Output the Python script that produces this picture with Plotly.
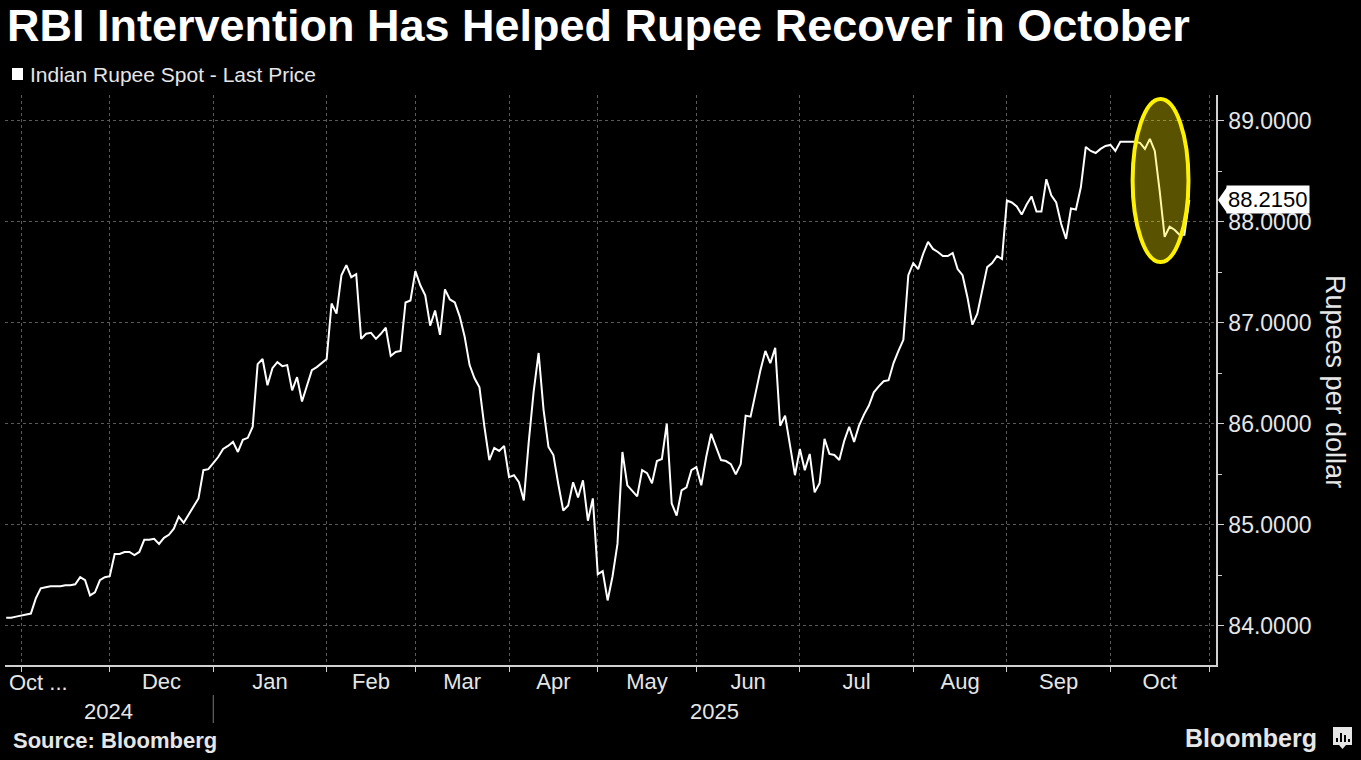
import pandas as pd
import plotly.graph_objects as go

# Indian FX market holidays in the window (no spot fixing on these days)
holidays = [
    "2024-11-01", "2024-11-15", "2024-11-20", "2024-12-25",
    "2025-02-19", "2025-02-26", "2025-03-14", "2025-03-31", "2025-04-01",
    "2025-04-10", "2025-04-14", "2025-04-18", "2025-05-01", "2025-05-12",
    "2025-08-15", "2025-08-27", "2025-09-05", "2025-10-02", "2025-10-21",
    "2025-10-22",
]

# USD/INR spot, one value per trading day, month by month
oct_2024 = [84.08, 84.08, 84.09]
nov_2024 = [84.10, 84.11, 84.12, 84.27, 84.37, 84.38, 84.39, 84.39, 84.39,
            84.40, 84.40, 84.41, 84.48, 84.45, 84.30, 84.33, 84.45, 84.48]
dec_2024 = [84.49, 84.71, 84.71, 84.73, 84.73, 84.70, 84.73, 84.85, 84.85,
            84.86, 84.81, 84.87, 84.90, 84.96, 85.08, 85.02, 85.10, 85.18,
            85.26, 85.54, 85.55]
jan_2025 = [85.61, 85.67, 85.75, 85.78, 85.82, 85.72, 85.84, 85.86, 85.97,
            86.59, 86.64, 86.38, 86.55, 86.61, 86.57, 86.58, 86.33, 86.46,
            86.22, 86.37, 86.53, 86.56, 86.60]
feb_2025 = [86.64, 87.19, 87.09, 87.47, 87.57, 87.45, 87.48, 86.84, 86.89,
            86.90, 86.84, 86.89, 86.95, 86.67, 86.71, 86.72, 87.20, 87.22]
mar_2025 = [87.51, 87.37, 87.27, 86.97, 87.12, 86.88, 87.33, 87.23, 87.20,
            87.06, 86.86, 86.58, 86.45, 86.36, 85.97, 85.64, 85.76, 85.73,
            85.78]
apr_2025 = [85.47, 85.49, 85.42, 85.24, 85.82, 86.32, 86.70, 86.14, 85.77,
            85.69, 85.40, 85.14, 85.19, 85.42, 85.27, 85.44, 85.04, 85.26]
may_2025 = [84.51, 84.54, 84.25, 84.49, 84.81, 85.72, 85.39, 85.34, 85.28,
            85.54, 85.51, 85.41, 85.63, 85.65, 86.00, 85.21, 85.09, 85.34,
            85.37, 85.54]
jun_2025 = [85.57, 85.39, 85.67, 85.90, 85.77, 85.64, 85.63, 85.60, 85.50,
            85.60, 86.08, 86.07, 86.30, 86.53, 86.72, 86.60, 86.75, 85.98,
            86.08, 85.80, 85.49]
jul_2025 = [85.75, 85.54, 85.70, 85.32, 85.41, 85.85, 85.70, 85.69, 85.64,
            85.83, 85.97, 85.82, 85.98, 86.09, 86.18, 86.31, 86.37, 86.42,
            86.43, 86.60, 86.72, 86.83, 87.47]
aug_2025 = [87.59, 87.53, 87.68, 87.80, 87.73, 87.70, 87.66, 87.66, 87.69,
            87.53, 87.47, 87.25, 86.98, 87.09, 87.32, 87.55, 87.59, 87.66,
            87.63]
sep_2025 = [88.21, 88.19, 88.15, 88.07, 88.17, 88.25, 88.10, 88.10, 88.42,
            88.26, 88.19, 87.98, 87.83, 88.13, 88.12, 88.34, 88.74, 88.70,
            88.68, 88.72, 88.75]
oct_2025 = [88.76, 88.70, 88.79, 88.79, 88.79, 88.79, 88.78, 88.72, 88.82,
            88.70, 88.30, 87.85, 87.95, 87.92, 87.87, 87.87, 88.215]

month_labels = ["Dec", "Jan", "Feb", "Mar", "Apr", "May", "Jun", "Jul",
                "Aug", "Sep", "Oct"]
year_labels = ["2024", "2025"]

values = (oct_2024 + nov_2024 + dec_2024 + jan_2025 + feb_2025 + mar_2025 +
          apr_2025 + may_2025 + jun_2025 + jul_2025 + aug_2025 + sep_2025 +
          oct_2025)

days = pd.bdate_range("2024-10-29", "2025-10-28", freq="C", holidays=holidays)
calendar = pd.bdate_range("2024-10-29", "2025-11-04", freq="C", holidays=holidays)

# first trading day of each month -> gridlines
start_idx = [i for i in range(1, len(calendar))
             if calendar[i].month != calendar[i - 1].month]
month_starts = [calendar[i] for i in start_idx]

# labels sit in the middle of each month (skip Nov 2024, like the original)
label_pos = []
for a, b in zip(start_idx[1:-1], start_idx[2:]):
    mid = (a + b) / 2
    label_pos.append(calendar[int(mid)] + pd.Timedelta(days=mid % 1))

W, H = 1361, 760
L, R, T, B = 5, 145, 95, 95


def px(x):
    return (x - L) / (W - L - R)


def py(y):
    return (H - B - y) / (H - T - B)


TXT = "#e6e6e6"
GRID = "#5a5a5a"
FONT = "Liberation Sans"

fig = go.Figure()
fig.add_trace(go.Scatter(
    x=days, y=values, mode="lines",
    line=dict(color="white", width=2),
    name="Indian Rupee Spot - Last Price",
    showlegend=False,
))

fig.update_layout(
    width=W, height=H,
    margin=dict(l=L, r=R, t=T, b=B),
    paper_bgcolor="black", plot_bgcolor="black",
    font=dict(family=FONT, color=TXT, size=22),
    title=dict(
        text="RBI Intervention Has Helped Rupee Recover in October",
        font=dict(family=FONT, size=45, color="white", weight="bold"),
        x=7 / W, xref="container", xanchor="left",
        y=1 - 25 / H, yanchor="middle",
    ),
    xaxis=dict(
        type="date",
        rangebreaks=[dict(bounds=["sat", "mon"]), dict(values=holidays)],
        range=[days[0] - pd.Timedelta(hours=6), "2025-11-04 10:00"],
        tickmode="array", tickvals=label_pos, ticktext=month_labels,
        ticks="", showgrid=False, zeroline=False,
        showline=True, linecolor="#d0d0d0", linewidth=1.5,
        tickfont=dict(size=22, color=TXT), ticklabelstandoff=-4,
        minor=dict(tickmode="array", tickvals=month_starts,
                   ticks="outside", ticklen=5, tickcolor="#d0d0d0",
                   showgrid=True, gridcolor=GRID, griddash="dot", gridwidth=1),
    ),
    yaxis=dict(
        side="right",
        range=[83.611, 89.254],
        tick0=84, dtick=1, tickformat=".4f",
        ticks="outside", ticklen=6, tickcolor="#d0d0d0",
        showline=True, linecolor="#d0d0d0", linewidth=1.5,
        showgrid=True, gridcolor=GRID, griddash="dot", gridwidth=1,
        zeroline=False,
        tickfont=dict(size=23, color=TXT),
        minor=dict(dtick=0.5, ticks="outside", ticklen=4,
                   tickcolor="#d0d0d0", showgrid=False),
    ),
)

# highlight of the October drop
fig.add_shape(type="circle", xref="x", yref="y",
              x0="2025-10-08 12:00", x1="2025-10-27 20:00",
              y0=87.60, y1=89.215,
              line=dict(color="#fff200", width=4),
              fillcolor="rgba(255,235,0,0.35)", layer="above")

# last price tag
last = values[-1]
fig.add_shape(type="path", xref="paper", xsizemode="pixel", xanchor=1,
              yref="y", ysizemode="pixel", yanchor=last,
              path="M 2,0 L 11,13 L 11,-13 Z",
              fillcolor="white", line=dict(width=0), layer="above")
fig.add_annotation(x=1, xref="paper", y=last, yref="y",
                   text=f"{last:.4f}", showarrow=False,
                   xanchor="left", yanchor="middle", xshift=10,
                   bgcolor="white", borderpad=1,
                   font=dict(size=22, color="black"))

# legend swatch + text
fig.add_shape(type="rect", xref="paper", yref="paper",
              x0=px(12), x1=px(23), y0=py(80), y1=py(68),
              fillcolor="white", line=dict(width=0))
fig.add_annotation(x=px(28), xref="paper", y=py(74), yref="paper",
                   text="Indian Rupee Spot - Last Price", showarrow=False,
                   xanchor="left", yanchor="middle",
                   font=dict(size=21, color=TXT))

# y axis title
fig.add_annotation(x=px(1335), xref="paper", y=py(381), yref="paper",
                   text="Rupees per dollar", textangle=90, showarrow=False,
                   xanchor="center", yanchor="middle",
                   font=dict(size=27, color=TXT))

# partial first month and years
fig.add_annotation(x=px(7), xref="paper", y=py(682), yref="paper",
                   text="Oct ...", showarrow=False, xanchor="left",
                   yanchor="middle", font=dict(size=22, color=TXT))
jan = month_starts[2]
fig.add_annotation(x=px((L + 212) / 2), xref="paper", y=py(711), yref="paper",
                   text=year_labels[0], showarrow=False,
                   xanchor="center", yanchor="middle",
                   font=dict(size=22, color=TXT))
fig.add_annotation(x=px((212 + W - R) / 2), xref="paper", y=py(711),
                   yref="paper", text=year_labels[1], showarrow=False,
                   xanchor="center", yanchor="middle",
                   font=dict(size=22, color=TXT))
fig.add_shape(type="line", xref="x", yref="paper", x0=jan, x1=jan,
              y0=py(695), y1=py(723), line=dict(color="#777", width=1))

# footer
fig.add_annotation(x=px(11), xref="paper", y=py(740), yref="paper",
                   text="Source: Bloomberg", showarrow=False,
                   xanchor="left", yanchor="middle",
                   font=dict(size=22, color=TXT, weight="bold"))
fig.add_annotation(x=px(1319), xref="paper", y=py(738), yref="paper",
                   text="Bloomberg", showarrow=False,
                   xanchor="right", yanchor="middle",
                   font=dict(size=25, color=TXT, weight="bold"))
fig.add_shape(type="rect", xref="paper", yref="paper",
              x0=px(1333), x1=px(1352), y0=py(745), y1=py(727),
              fillcolor=TXT, line=dict(width=0))
fig.add_shape(type="path", xref="paper", yref="paper",
              path=f"M {px(1339)},{py(745)} L {px(1346)},{py(745)} "
                   f"L {px(1342.5)},{py(749)} Z",
              fillcolor=TXT, line=dict(width=0))
for bx, top in [(1336, 738), (1340, 733), (1344, 735), (1348, 739)]:
    fig.add_shape(type="rect", xref="paper", yref="paper",
                  x0=px(bx), x1=px(bx + 2), y0=py(742), y1=py(top),
                  fillcolor="black", line=dict(width=0))

fig.write_html("out.html", config={"displayModeBar": False},
               post_script="document.body.style.margin='0px';")
